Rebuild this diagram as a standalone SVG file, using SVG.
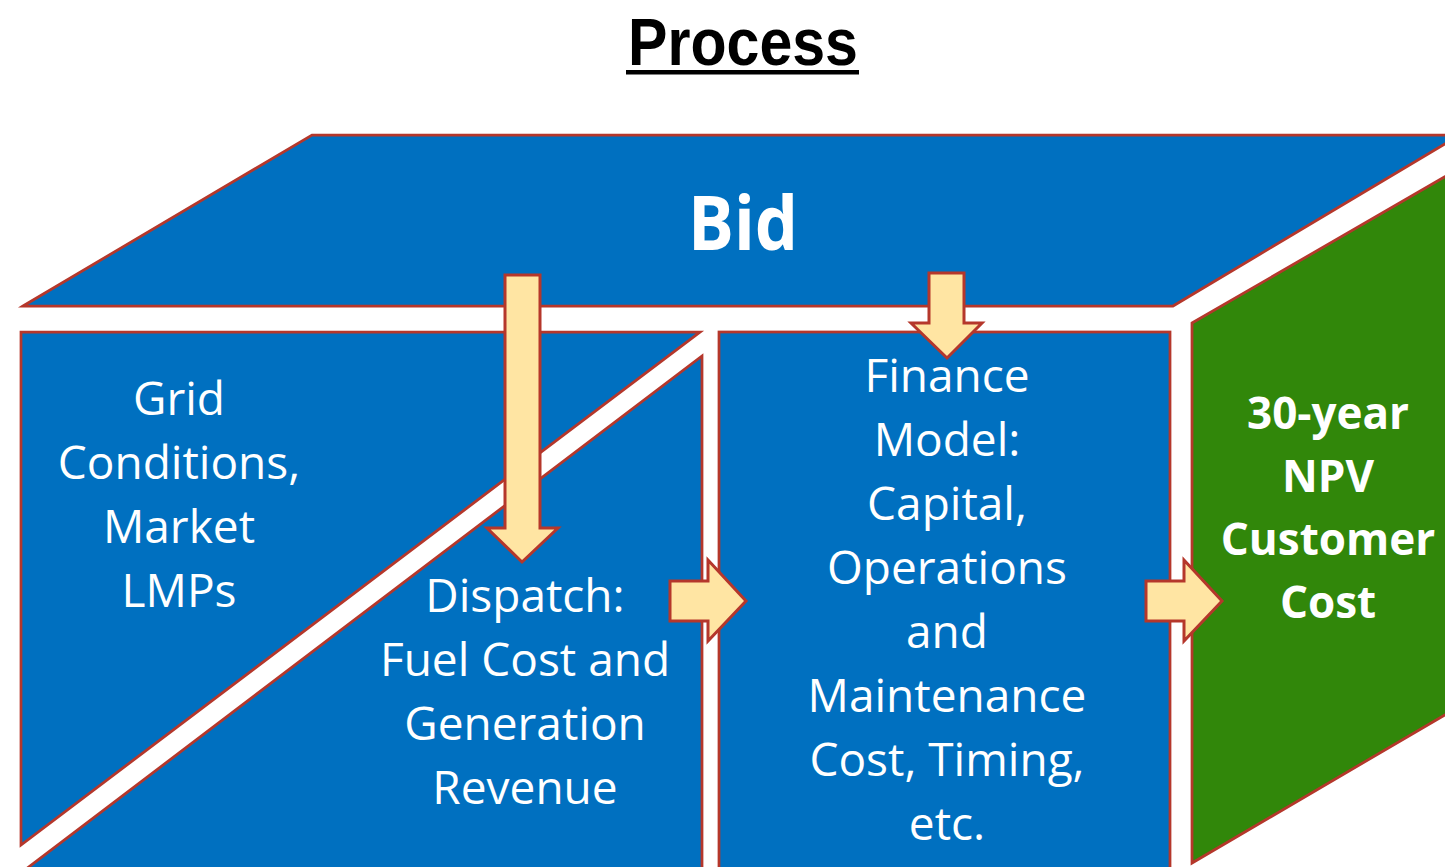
<svg xmlns="http://www.w3.org/2000/svg" width="1445" height="867" viewBox="0 0 1445 867">
<style>
.blue{fill:#0070C0;stroke:#B5372B;stroke-width:2.75;stroke-linejoin:miter}
.green{fill:#31870A;stroke:#B5372B;stroke-width:2.75}
.arrow{fill:#FFE5A3;stroke:#B5372B;stroke-width:3;stroke-linejoin:miter}
.t{font-family:"Open Sans","Liberation Sans",sans-serif;fill:#fff;text-anchor:middle;font-size:46px}
.b{font-weight:bold;font-size:44px}
.bid{font-size:76px}
</style>
<rect width="1445" height="867" fill="#fff"/>
<g id="title">
<text x="743" y="65" font-family="Liberation Sans, Arial, sans-serif" font-weight="bold" font-size="66" text-anchor="middle" fill="#000" textLength="230" lengthAdjust="spacingAndGlyphs">Process</text>
<rect x="626" y="70" width="233" height="4.5" fill="#000"/>
</g>
<g id="bid">
<polygon class="blue" points="23,306 312,135 1460,135 1173,306"/>
<text class="t b bid" x="743" y="250" textLength="110" lengthAdjust="spacingAndGlyphs">Bid</text>
</g>
<g id="grid">
<polygon class="blue" points="21,332 700,332 21,845"/>
<text class="t" x="179" y="415">Grid</text>
<text class="t" x="179" y="479">Conditions,</text>
<text class="t" x="179" y="543">Market</text>
<text class="t" x="179" y="607">LMPs</text>
</g>
<g id="dispatch">
<polygon class="blue" points="702,356 702,885 5,885"/>
<text class="t" x="525" y="612">Dispatch:</text>
<text class="t" x="525" y="676">Fuel Cost and</text>
<text class="t" x="525" y="740">Generation</text>
<text class="t" x="525" y="804">Revenue</text>
</g>
<g id="finance">
<rect class="blue" x="719" y="332" width="451" height="560"/>
<text class="t" x="947" y="392">Finance</text>
<text class="t" x="947" y="456">Model:</text>
<text class="t" x="947" y="520">Capital,</text>
<text class="t" x="947" y="584">Operations</text>
<text class="t" x="947" y="648">and</text>
<text class="t" x="947" y="712">Maintenance</text>
<text class="t" x="947" y="776">Cost, Timing,</text>
<text class="t" x="947" y="840">etc.</text>
</g>
<g id="npv">
<polygon class="green" points="1192,323 1460,168 1460,706 1192,863"/>
<text class="t b" x="1328" y="429">30-year</text>
<text class="t b" x="1328" y="492">NPV</text>
<text class="t b" x="1328" y="555">Customer</text>
<text class="t b" x="1328" y="618">Cost</text>
</g>
<g id="connectors">
<polygon class="arrow" points="505,275 540,275 540,528 558,528 522,562 487,528 505,528"/>
<polygon class="arrow" points="929,273 964,273 964,323 982,323 947,358 911,323 929,323"/>
<polygon class="arrow" points="670,581 708,581 708,560 746,601 708,641 708,621 670,621"/>
<polygon class="arrow" points="1146,581 1184,581 1184,560 1222,601 1184,641 1184,621 1146,621"/>
</g>
</svg>
